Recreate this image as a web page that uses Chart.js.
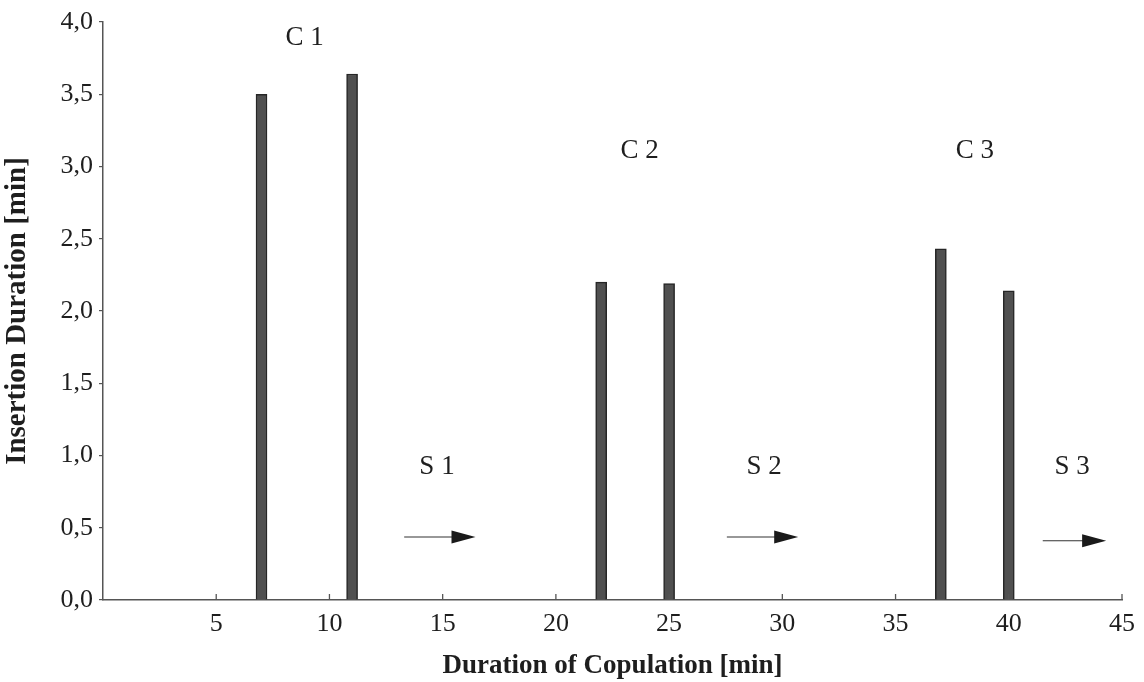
<!DOCTYPE html>
<html>
<head>
<meta charset="utf-8">
<script src="https://cdn.jsdelivr.net/npm/chart.js@4.4.1/dist/chart.umd.min.js"></script>
<style>
html,body{margin:0;padding:0;background:#fff;}
#wrap{width:1144px;height:682px;}
</style>
</head>
<body>
<div id="wrap"><canvas id="c" width="1144" height="682"></canvas></div>
<script>
const copulationMinutes = [7, 11, 22, 25, 37, 40];
const insertionDurations = [3.50, 3.64, 2.20, 2.19, 2.43, 2.14];
const xTickValues = [5, 10, 15, 20, 25, 30, 35, 40, 45];
const yTickValues = [0, 0.5, 1.0, 1.5, 2.0, 2.5, 3.0, 3.5, 4.0];
const labelTexts = ['C 1', 'C 2', 'C 3', 'S 1', 'S 2', 'S 3'];
const labelX = [8.9, 23.7, 38.5, 14.75, 29.2, 42.8];
const labelY = [3.89, 3.11, 3.11, 0.92, 0.92, 0.92];
const arrowStartX = [13.3, 27.55, 41.5];
const arrowEndX = [16.45, 30.7, 44.3];
const arrowY = [0.436, 0.436, 0.41];

const FONT = '"Liberation Serif", "DejaVu Serif", serif';
const INK = '#1e1e1e';

const overlay = {
  id: 'overlay',
  afterDraw(chart) {
    const ctx = chart.ctx;
    const xs = chart.scales.x, ys = chart.scales.y;
    ctx.save();
    // inward x ticks
    ctx.strokeStyle = '#555';
    ctx.lineWidth = 1.3;
    const y0 = ys.getPixelForValue(0);
    xTickValues.forEach(v => {
      const px = xs.getPixelForValue(v);
      ctx.beginPath();
      ctx.moveTo(px, y0);
      ctx.lineTo(px, y0 - 6);
      ctx.stroke();
    });
    // labels
    ctx.fillStyle = INK;
    ctx.font = '27px ' + FONT;
    ctx.textAlign = 'center';
    ctx.textBaseline = 'middle';
    labelTexts.forEach((t, i) => {
      ctx.fillText(t, xs.getPixelForValue(labelX[i]), ys.getPixelForValue(labelY[i]));
    });
    // arrows
    arrowStartX.forEach((sx, i) => {
      const x1 = xs.getPixelForValue(sx), x2 = xs.getPixelForValue(arrowEndX[i]);
      const py = ys.getPixelForValue(arrowY[i]);
      ctx.strokeStyle = '#333';
      ctx.lineWidth = 1.2;
      ctx.beginPath();
      ctx.moveTo(x1, py);
      ctx.lineTo(x2 - 20, py);
      ctx.stroke();
      ctx.fillStyle = '#1a1a1a';
      ctx.beginPath();
      ctx.moveTo(x2, py);
      ctx.lineTo(x2 - 24, py - 6.5);
      ctx.lineTo(x2 - 24, py + 6.5);
      ctx.closePath();
      ctx.fill();
    });
    ctx.restore();
  }
};

const data = copulationMinutes.map((x, i) => ({x: x, y: insertionDurations[i]}));

new Chart(document.getElementById('c'), {
  type: 'bar',
  data: {
    datasets: [{
      data: data,
      backgroundColor: '#505050',
      borderColor: '#262626',
      borderWidth: 1.5,
      borderSkipped: 'bottom',
      barThickness: 11
    }]
  },
  options: {
    responsive: false,
    animation: false,
    events: [],
    layout: {padding: {top: 22, right: 21, left: 0, bottom: 0}},
    plugins: {legend: {display: false}, tooltip: {enabled: false}},
    scales: {
      x: {
        type: 'linear',
        offset: false,
        min: 0, max: 45,
        afterBuildTicks(scale) { scale.ticks = xTickValues.map(v => ({value: v})); },
        afterFit(scale) { scale.height = 82; },
        grid: {display: false, drawTicks: false},
        border: {display: true, color: '#555', width: 1.5},
        ticks: {
          color: INK, padding: 9,
          font: {family: FONT, size: 26},
          maxRotation: 0, autoSkip: false
        },
        title: {
          display: true, text: 'Duration of Copulation [min]', color: INK,
          font: {family: FONT, size: 27, weight: 'bold'}, padding: {top: 2, bottom: 0}
        }
      },
      y: {
        min: 0, max: 4,
        afterBuildTicks(scale) { scale.ticks = yTickValues.map(v => ({value: v})); },
        afterFit(scale) { scale.width = 103; },
        grid: {display: true, drawOnChartArea: false, drawTicks: true, tickLength: 4, color: '#555', lineWidth: 1.2},
        border: {display: true, color: '#555', width: 1.5},
        ticks: {
          color: INK, padding: 6,
          font: {family: FONT, size: 26},
          callback: v => v.toFixed(1).replace('.', ',')
        },
        title: {
          display: true, text: 'Insertion Duration [min]', color: INK,
          font: {family: FONT, size: 29, weight: 'bold'}, padding: {top: 0, bottom: 2}
        }
      }
    }
  },
  plugins: [overlay]
});
</script>
</body>
</html>
